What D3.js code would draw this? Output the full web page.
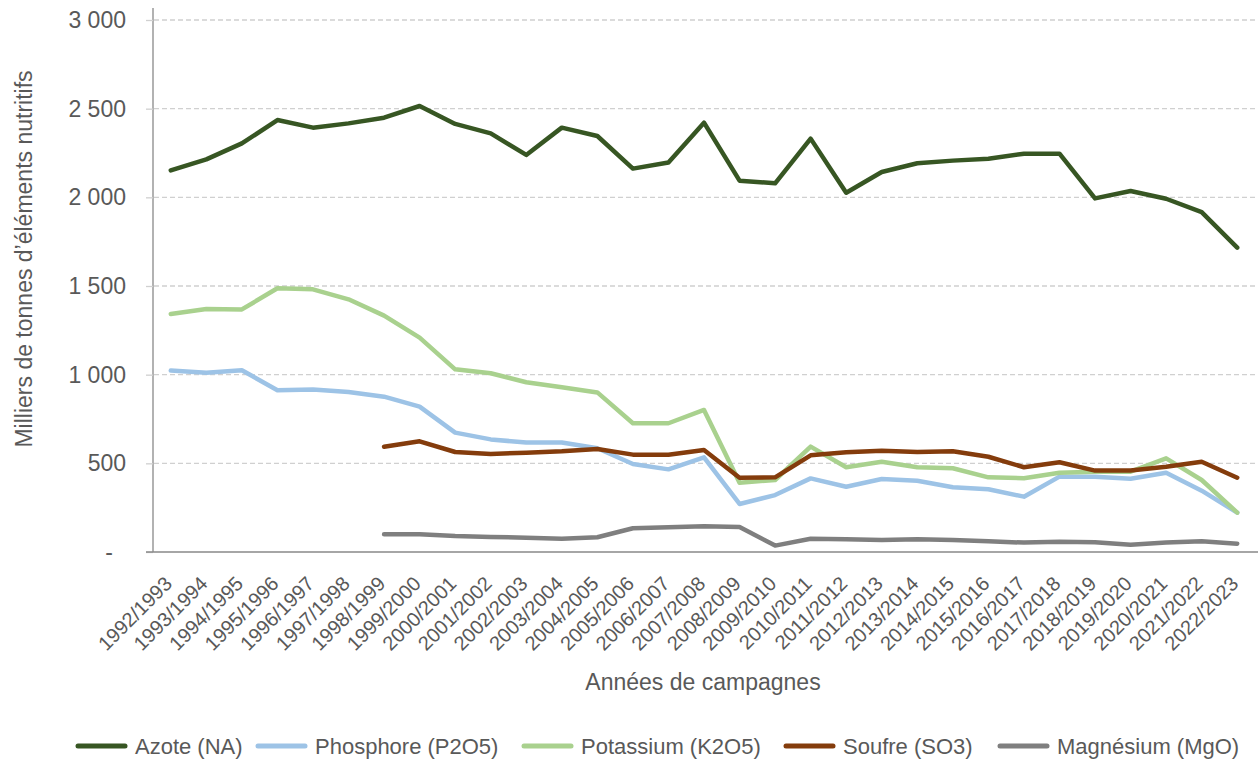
<!DOCTYPE html>
<meta charset="utf-8">
<head>
  <script src="https://d3js.org/d3.v7.min.js"></script>
  <style>
    body { margin: 0; background: #fff; }
    svg { font-family: "Liberation Sans", Arial, sans-serif; }
  </style>
</head>
<body>
<div id="my_dataviz"></div>
<script>
// campaign years
var years = ["1992/1993","1993/1994","1994/1995","1995/1996","1996/1997","1997/1998","1998/1999",
  "1999/2000","2000/2001","2001/2002","2002/2003","2003/2004","2004/2005","2005/2006","2006/2007",
  "2007/2008","2008/2009","2009/2010","2010/2011","2011/2012","2012/2013","2013/2014","2014/2015",
  "2015/2016","2016/2017","2017/2018","2018/2019","2019/2020","2020/2021","2021/2022","2022/2023"];

// thousands of tonnes
var azote = [2152,2214,2304,2436,2393,2417,2449,2515,2414,2361,2239,2393,2346,2162,2196,
  2421,2094,2079,2331,2026,2143,2192,2207,2218,2246,2246,1994,2036,1992,1917,1716];
var phosphore = [1023,1011,1025,912,917,902,876,820,673,635,617,617,585,496,466,
  534,271,321,415,368,412,402,365,354,312,425,425,413,447,346,222];
var potassium = [1342,1370,1368,1487,1481,1425,1333,1209,1030,1008,957,929,900,726,726,
  801,391,406,594,478,509,478,472,421,416,447,453,453,528,406,222];
var soufre = [null,null,null,null,null,null,594,624,564,553,560,568,581,549,549,
  575,419,421,545,562,571,564,568,537,478,506,459,459,481,509,419];
var magnesium = [null,null,null,null,null,null,100,100,90,85,81,75,83,134,139,
  145,141,36,75,72,68,72,68,60,53,58,55,41,53,60,47];

var seriesNames = ["Azote (NA)","Phosphore (P2O5)","Potassium (K2O5)","Soufre (SO3)","Magnésium (MgO)"];
var seriesColors = ["#375623","#9dc3e6","#a9d18e","#843c0c","#7f7f7f"];
var yTicks = [0,500,1000,1500,2000,2500,3000];

var W = 1258, H = 761;
var svg = d3.select("#my_dataviz").append("svg")
  .attr("width", W).attr("height", H);

var x = d3.scalePoint().domain(years).range([153, 1255]).padding(0.5);
var y = d3.scaleLinear().domain([0, 3000]).range([552, 20]);

var fr = d3.formatLocale({decimal: ",", thousands: " ", grouping: [3], currency: ["", " €"]});
var fmt = fr.format(",d");

// gridlines + y labels
var yAxis = svg.append("g").attr("transform", "translate(153,0)")
  .call(d3.axisLeft(y).tickValues(yTicks).tickSize(7).tickPadding(20)
    .tickFormat(function(d) { return d === 0 ? "-" : fmt(d); }));
yAxis.select(".domain").attr("stroke", "#898989").attr("stroke-width", 1.3)
  .attr("d", "M0,8V552");
yAxis.selectAll(".tick line").attr("stroke", "#d0d0d0").attr("stroke-width", 1.3);
yAxis.selectAll(".tick text").attr("fill", "#595959").style("font-size", "23px")
  .attr("dx", function(d) { return d === 0 ? "-13" : "0"; });

svg.append("g").selectAll("line.grid")
  .data(yTicks.filter(function(d) { return d > 0; }))
  .enter().append("line")
  .attr("x1", 154).attr("x2", 1258)
  .attr("y1", function(d) { return y(d); }).attr("y2", function(d) { return y(d); })
  .attr("stroke", "#d0d0d0").attr("stroke-width", 1.3)
  .attr("stroke-dasharray", "5,3");

// x axis
var xAxis = svg.append("g").attr("transform", "translate(0,552)")
  .call(d3.axisBottom(x).tickSize(0));
xAxis.select(".domain").attr("stroke", "#898989").attr("stroke-width", 1.3)
  .attr("d", "M146,0H1258");
xAxis.selectAll(".tick text")
  .attr("x", 0).attr("y", 0).attr("dy", 0)
  .attr("fill", "#595959").style("font-size", "20px")
  .style("text-anchor", "end")
  .attr("transform", "translate(2,33)rotate(-45)");

// axis titles
svg.append("text")
  .attr("x", 703).attr("y", 690)
  .attr("text-anchor", "middle").attr("fill", "#595959").style("font-size", "23px")
  .text("Années de campagnes");
svg.append("text")
  .attr("transform", "translate(32,259)rotate(-90)")
  .attr("text-anchor", "middle").attr("fill", "#595959").style("font-size", "23px")
  .text("Milliers de tonnes d’éléments nutritifs");

// lines
var allSeries = [azote, phosphore, potassium, soufre, magnesium];
var line = d3.line()
  .defined(function(d) { return d != null; })
  .x(function(d, i) { return x(years[i]); })
  .y(function(d) { return y(d); });

svg.append("g").selectAll("path.serie")
  .data(allSeries)
  .enter().append("path")
  .attr("fill", "none")
  .attr("stroke", function(d, i) { return seriesColors[i]; })
  .attr("stroke-width", 4.5)
  .attr("stroke-linejoin", "round")
  .attr("stroke-linecap", "round")
  .attr("d", line);

// legend
var legendX = [78, 258, 524, 786, 1000];
var leg = svg.append("g").selectAll("g")
  .data(seriesNames)
  .enter().append("g")
  .attr("transform", function(d, i) { return "translate(" + legendX[i] + ",746)"; });
leg.append("line")
  .attr("x1", 0).attr("x2", 47)
  .attr("stroke", function(d, i) { return seriesColors[i]; })
  .attr("stroke-width", 5).attr("stroke-linecap", "round");
leg.append("text")
  .attr("x", 57).attr("y", 8)
  .attr("fill", "#595959").style("font-size", "22px")
  .text(function(d) { return d; });
</script>
</body>
